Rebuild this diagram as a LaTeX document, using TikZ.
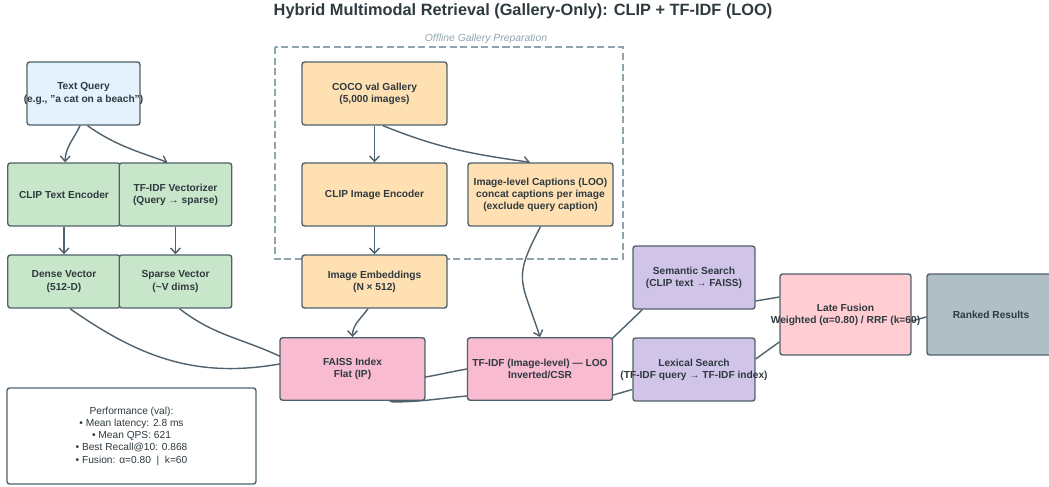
\documentclass[tikz,border=0pt]{standalone}
\usepackage{fontspec}
\setmainfont{Liberation Sans}
\usepackage{xcolor}
\usetikzlibrary{arrows.meta,backgrounds,calc}
\definecolor{linecol}{HTML}{4F616C}
\definecolor{inkcol}{HTML}{2F3A40}
\definecolor{querycol}{HTML}{E3F2FD}
\definecolor{enccol}{HTML}{C8E6C9}
\definecolor{galcol}{HTML}{FFE0B2}
\definecolor{indexcol}{HTML}{F8BBD0}
\definecolor{searchcol}{HTML}{D1C4E9}
\definecolor{fusecol}{HTML}{FFCDD2}
\definecolor{resultcol}{HTML}{B0BEC5}
\definecolor{framecol}{HTML}{90A4AE}
\newcommand{\spill}[1]{\makebox[0pt]{#1}}
\tikzset{box/.style={draw=linecol,line width=0.8pt,rounded corners=1.5pt,
                     align=center,text=inkcol,inner sep=1pt,
                     font=\fontsize{5.8}{6.9}\selectfont\bfseries}}
\tikzset{link/.style={draw=linecol,line width=0.8pt}}

\begin{document}
\begin{tikzpicture}[x=0.02cm, y=-0.02cm,
    % styles for clarity
    query/.style  ={box, fill=querycol, minimum width=2.26cm, minimum height=1.26cm},
    enc/.style    ={box, fill=enccol, minimum width=2.25cm, minimum height=1.26cm},
    vec/.style    ={box, fill=enccol, minimum width=2.25cm, minimum height=1.06cm},
    gal/.style    ={box, fill=galcol, minimum width=2.9cm, minimum height=1.26cm},
    emb/.style    ={box, fill=galcol, minimum width=2.9cm, minimum height=1.06cm},
    index/.style  ={box, fill=indexcol, minimum width=2.9cm, minimum height=1.25cm},
    search/.style ={box, fill=searchcol, minimum width=2.44cm, minimum height=1.26cm},
    fuse/.style   ={box, fill=fusecol, minimum width=2.62cm, minimum height=1.62cm},
    result/.style ={box, fill=resultcol, minimum width=2.56cm, minimum height=1.62cm},
    stats/.style  ={box, fill=white, minimum width=4.98cm, minimum height=1.92cm,
                    font=\fontsize{5.8}{7}\selectfont},
    frame/.style  ={draw=framecol, line width=1.1pt, dash pattern=on 4pt off 2pt},
    note/.style   ={text=framecol, font=\fontsize{5.9}{7}\selectfont\itshape},
    arr/.style    ={link, -{Straight Barb[length=3pt,width=5.5pt]}}
  ]
    \useasboundingbox (0,0) rectangle (1049,487);

    \node[text=inkcol, font=\fontsize{9.3}{11}\selectfont\bfseries] (title) at (523,11)
      {Hybrid Multimodal Retrieval (Gallery-Only): CLIP + TF-IDF (LOO)};
    \node[note] (preplabel) at (486,39) {Offline Gallery Preparation};

    \node[query](query) at (83.5,93.5) {Text Query\\\spill{(e.g., "a cat on a beach")}};
    \node[enc](clipt) at (64,194.5) {CLIP Text Encoder};
    \node[enc](tfv) at (175.5,194.5) {TF-IDF Vectorizer\\(Query → sparse)};
    \node[vec](dense) at (64,281.5) {Dense Vector\\(512-D)};
    \node[vec](sparse) at (175.5,281.5) {Sparse Vector\\(\textasciitilde V dims)};

    \node[gal](coco) at (374.5,93.5) {COCO val Gallery\\(5,000 images)};
    \node[gal](clipi) at (374.5,194.5) {CLIP Image Encoder};
    \node[gal](caps) at (540.5,194.5)
      {Image-level Captions (LOO)\\concat captions per image\\(exclude query caption)};
    \node[emb](embed) at (374.5,281.5) {Image Embeddings\\(N × 512)};

    \node[index](faiss) at (352.5,369) {FAISS Index\\Flat (IP)};
    \node[index](tfidf) at (540,369) {\spill{TF-IDF (Image-level) — LOO}\\Inverted/CSR};
    \node[search](sem) at (694,277.5) {Semantic Search\\(CLIP text → FAISS)};
    \node[search](lex) at (694,369.5) {Lexical Search\\\spill{(TF-IDF query → TF-IDF index)}};
    \node[fuse](fusion) at (845.5,314.5) {Late Fusion\\\spill{Weighted (α=0.80) / RRF (k=60)}};
    \node[result](ranked) at (991,314.5) {Ranked Results};

    \node[stats](perf) at (131.5,436) {Performance (val):\\• Mean latency: 2.8 ms\\• Mean QPS: 621\\
      • Best Recall@10: 0.868\\• Fusion: α=0.80\ \ |\ \ k=60};

    \begin{scope}[on background layer]
      \draw[frame] (275,47) rectangle (623,259);

      \draw[arr] ($(query.south)+(-3.5,0)$) to[out=-115,in=88] ($(clipt.north)+(1,0)$);
      \draw[arr] ($(query.south)+(4,0)$) to[out=-35,in=160] ($(tfv.north)+(-8,0)$);
      \draw[arr] (clipt) -- (dense);
      \draw[arr] (tfv) -- (sparse);

      \draw[arr] (coco) -- (clipi);
      \draw[arr] ($(coco.south)+(8.5,0)$) to[out=-22,in=172] ($(caps.north)+(-10.5,0)$);
      \draw[arr] (clipi) -- (embed);
      \draw[arr] ($(embed.south)+(-6.5,0)$) to[out=-125,in=90] (faiss.north);
      \draw[arr] (caps.south) to[out=-118,in=108,looseness=1.4] (tfidf.north);

      \draw[link] ($(dense.south)+(6,0)$) to[out=-35,in=190] ($(faiss.west)+(0,-5)$)
        -- ($(faiss.east)+(0,8)$) to[out=10,in=190] (tfidf.west)
        -- ($(tfidf.north east)+(-14,14)$) -- ($(sem.south west)+(10,0)$);
      \draw[link] ($(sparse.south)+(4,0)$) to[out=-38,in=155] ($(faiss.west)+(0,-13)$)
        -- ($(faiss.south)+(40,1)$) to[out=0,in=185] ($(tfidf.west)+(0,27)$)
        -- ($(tfidf.east)+(0,26)$) -- ($(lex.west)+(0,20)$);

      \draw[link] ($(sem.east)+(0,23.5)$) -- ($(fusion.west)+(0,-17.5)$);
      \draw[link] ($(lex.east)+(0,-10.5)$) -- ($(fusion.west)+(0,27.5)$);
      \draw[link] ($(fusion.east)+(0,6.5)$) -- ($(ranked.west)+(0,2.5)$);
    \end{scope}
  \end{tikzpicture}
\end{document}
